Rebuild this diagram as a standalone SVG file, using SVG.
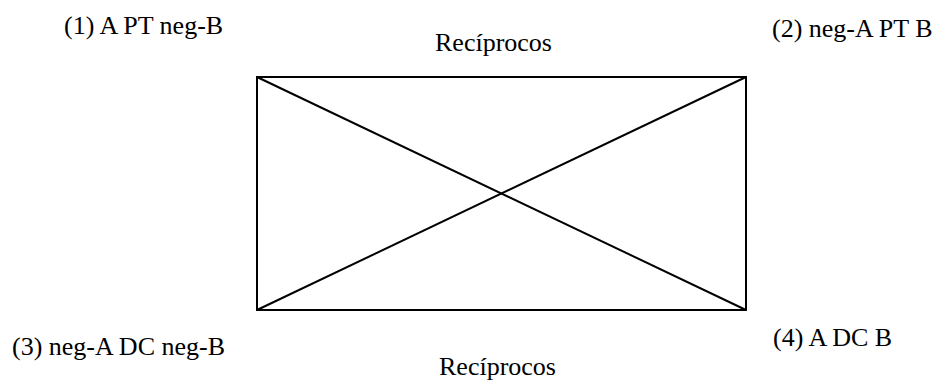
<svg xmlns="http://www.w3.org/2000/svg" width="941" height="380" viewBox="0 0 941 380">
<style>
text{font-family:"Liberation Serif","Times New Roman",serif;font-size:26px;fill:#000}
.ln{stroke:#000;stroke-width:2;fill:none}
</style>
<rect width="941" height="380" fill="#fff"/>
<g id="connectors">
<rect class="ln" x="257" y="77" width="489" height="233"/>
<line class="ln" x1="257" y1="77" x2="746" y2="310"/>
<line class="ln" x1="257" y1="310" x2="746" y2="77"/>
</g>
<g id="n1"><text x="64" y="34">(1) A PT neg-B</text></g>
<g id="n2"><text x="772" y="37">(2) neg-A PT B</text></g>
<g id="r1"><text x="435" y="51">Recíprocos</text></g>
<g id="n3"><text x="12" y="355">(3) neg-A DC neg-B</text></g>
<g id="n4"><text x="773" y="346">(4) A DC B</text></g>
<g id="r2"><text x="439" y="375">Recíprocos</text></g>
</svg>
